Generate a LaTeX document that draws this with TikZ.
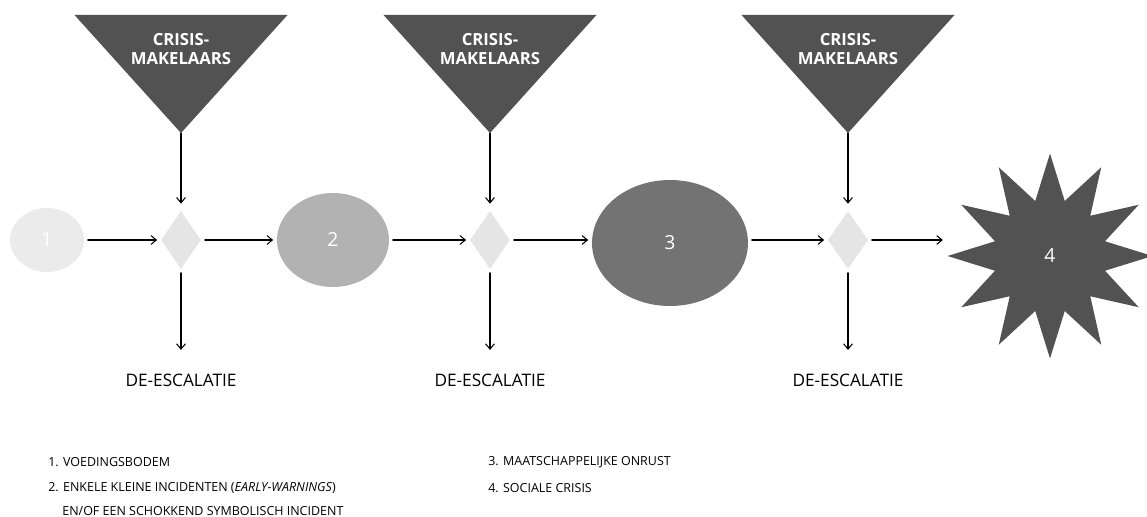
\documentclass[tikz,border=0pt]{standalone}
\usepackage{fontspec}
\setmainfont{Open Sans}
\usetikzlibrary{shapes.geometric,arrows.meta}

\begin{document}
\begin{tikzpicture}[x=0.02cm,y=-0.02cm,line cap=round,line join=round,
  >={Straight Barb[length=3pt,width=5pt]},
  makelaar/.style={fill=black!68},
  crisistekst/.style={text=white,align=center,font=\fontsize{9.5}{10.8}\selectfont\bfseries},
  fase/.style={ellipse,inner sep=0pt,text=white,font=\fontsize{11}{12}\selectfont},
  kruispunt/.style={diamond,fill=black!10,inner sep=0pt,minimum width=0.8cm,minimum height=1.16cm},
  pijl/.style={->,line width=0.6pt,shorten >=2pt,shorten <=2pt},
  detekst/.style={font=\fontsize{9.8}{11}\selectfont},
  legenda/.style={anchor=west,inner sep=0pt,font=\fontsize{7.1}{8}\selectfont}
]
\useasboundingbox (0,0) rectangle (1147,517);

% crisismakelaars en kruispunten
\foreach \x/\n in {181/1,490/2,848/3}{
  \fill[makelaar] (\x-106.5,15) -- (\x+106.5,15) -- (\x,133) -- cycle;
  \coordinate (t\n) at (\x,133);
  \node[crisistekst] at (\x,49) {CRISIS-\\MAKELAARS};
  \node[kruispunt] (d\n) at (\x,240) {};
  \node[detekst] (e\n) at (\x,380) {DE-ESCALATIE};
  \draw[pijl,shorten <=0pt,shorten >=4pt] (t\n) -- (d\n.north);
  \draw[pijl,shorten >=10pt] (d\n.south) -- (e\n.north);
}

% fasen
\node[fase,fill=black!8,minimum width=1.48cm,minimum height=1.28cm] (c1) at (47,240) {1};
\node[fase,fill=black!30,minimum width=2.24cm,minimum height=1.88cm] (c2) at (333,240) {2};
\node[fase,fill=black!55,minimum width=3.12cm,minimum height=2.52cm] (c3) at (670,243) {3};
\node[fase,star,star points=12,star point ratio=1.8,fill=black!68,minimum size=4.1cm] (s4) at (1050,256) {4};

\draw[pijl] (c1) -- (d1);
\draw[pijl] (d1) -- (c2);
\draw[pijl] (c2) -- (d2);
\draw[pijl] (d2) -- (c3.west |- d2);
\draw[pijl] (c3.east |- d3) -- (d3);
\draw[pijl] (d3) -- (d3 -| s4.west);

% legenda
\node[legenda] (l1) at (48,462) {1. VOEDINGSBODEM};
\node[legenda] (l2) at (48,488) {2. ENKELE KLEINE INCIDENTEN (\textit{EARLY-WARNINGS})};
\node[legenda] (l2b) at (62,511) {EN/OF EEN SCHOKKEND SYMBOLISCH INCIDENT};
\node[legenda] (l3) at (488,462) {3. MAATSCHAPPELIJKE ONRUST};
\node[legenda] (l4) at (488,488) {4. SOCIALE CRISIS};
\end{tikzpicture}
\end{document}
